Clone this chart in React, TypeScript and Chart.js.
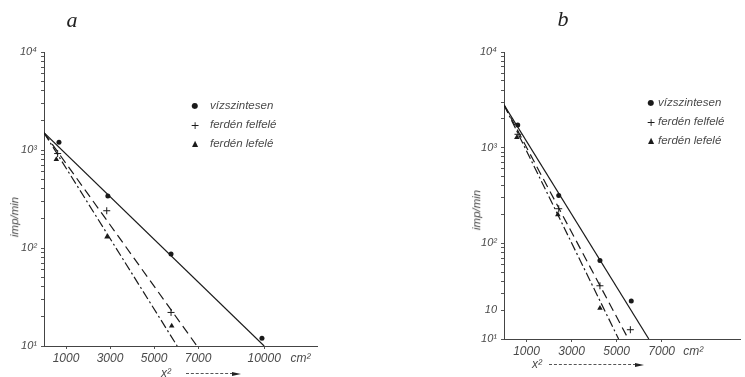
import React, { useEffect, useRef } from 'react';
import { Chart, registerables } from 'chart.js';
Chart.register(...registerables);

const INK = '#1a1a1a';
const TEXT = '#4a4a4a';

// ---------- Panel a ----------
const aDotsX = [680, 2900, 5770, 9900];
const aDotsY = [1200, 340, 87, 12];
const aPlusX = [620, 2850, 5770];
const aPlusY = [920, 240, 22];
const aTriX = [560, 2860, 5800];
const aTriY = [800, 130, 16];
const aSolidX = [0, 10000];
const aSolidY = [1500, 10];
const aDashX = [0, 6950];
const aDashY = [1500, 10];
const aDashDotX = [0, 6050];
const aDashDotY = [1500, 10];
const aXTickValues = [1000, 3000, 5000, 7000, 10000, 11650];
const aXTickLabels = ['1000', '3000', '5000', '7000', '10000', 'cm²'];
const aYTickValues = [10, 100, 1000, 10000];
const aYTickLabels = ['10¹', '10²', '10³', '10⁴'];

// ---------- Panel b ----------
const bDotsX = [610, 2430, 4260, 5650];
const bDotsY = [1730, 316, 66, 25];
const bPlusX = [620, 2430, 4260, 5610];
const bPlusY = [1380, 230, 36, 12.5];
const bTriX = [570, 2390, 4260];
const bTriY = [1280, 200, 21];
const bSolidX = [0, 6430];
const bSolidY = [2800, 10];
const bDashX = [0, 5520];
const bDashY = [2800, 10];
const bDashDotX = [0, 5090];
const bDashDotY = [2800, 10];
const bXTickValues = [1000, 3000, 5000, 7000, 8400];
const bXTickLabels = ['1000', '3000', '5000', '7000', 'cm²'];
const bYTickValues = [10, 20, 100, 1000, 10000];
const bYTickLabels = ['10¹', '10', '10²', '10³', '10⁴'];

const legendLabels = ['vízszintesen', 'ferdén felfelé', 'ferdén lefelé'];
const minorMultipliers = [2, 3, 4, 5, 6, 7, 8, 9];
const decades = [10, 100, 1000];

const pts = (xs: number[], ys: number[]) => xs.map((x, i) => ({ x, y: ys[i] }));

const xTickFont = { family: '"Liberation Sans", Arial, sans-serif', size: 12, style: 'italic' as const };
const yTickFont = { family: '"Liberation Sans", Arial, sans-serif', size: 11, style: 'italic' as const };

function makeConfig(p: any): any {
  const yAll: number[] = [];
  decades.forEach((d) => {
    yAll.push(d);
    minorMultipliers.forEach((m) => yAll.push(d * m));
  });
  yAll.push(10000);
  p.yTickValues.forEach((v: number) => {
    if (!yAll.includes(v)) yAll.push(v);
  });
  yAll.sort((a, b) => a - b);

  return {
    type: 'scatter',
    data: {
      datasets: [
        { data: pts(p.solidX, p.solidY), showLine: true, borderColor: INK, borderWidth: 1.2, pointRadius: 0 },
        { data: pts(p.dashX, p.dashY), showLine: true, borderColor: INK, borderWidth: 1.2, pointRadius: 0, borderDash: [9, 5] },
        { data: pts(p.ddX, p.ddY), showLine: true, borderColor: INK, borderWidth: 1.2, pointRadius: 0, borderDash: [9, 3, 2, 3] },
        { data: pts(p.dotsX, p.dotsY), pointStyle: 'circle', pointRadius: 2.5, backgroundColor: INK, borderColor: INK, borderWidth: 0 },
        { data: pts(p.plusX, p.plusY), pointStyle: 'cross', pointRadius: 3.5, borderColor: INK, borderWidth: 1 },
        { data: pts(p.triX, p.triY), pointStyle: 'triangle', pointRadius: 3.2, backgroundColor: INK, borderColor: INK, borderWidth: 0 },
      ],
    },
    options: {
      animation: false,
      responsive: false,
      maintainAspectRatio: false,
      layout: { padding: p.padding },
      plugins: { legend: { display: false }, tooltip: { enabled: false }, title: { display: false } },
      scales: {
        x: {
          type: 'linear',
          min: 0,
          max: p.xMax,
          afterFit: (s: any) => { s.height = p.xHeight; },
          afterBuildTicks: (s: any) => { s.ticks = p.xTickValues.map((v: number) => ({ value: v })); },
          ticks: {
            autoSkip: false,
            maxRotation: 0,
            padding: 2,
            font: xTickFont,
            color: TEXT,
            callback: (v: any) => {
              const i = p.xTickValues.indexOf(Number(v));
              return i >= 0 ? p.xTickLabels[i] : '';
            },
          },
          grid: {
            drawOnChartArea: false,
            tickLength: 3,
            color: (ctx: any) => (ctx.tick && p.xTickLabels[p.xTickValues.indexOf(ctx.tick.value)] === 'cm²' ? 'rgba(0,0,0,0)' : '#555'),
          },
          border: { display: true, color: '#444', width: 1, dash: [7, 2, 1, 2] },
        },
        y: {
          type: 'logarithmic',
          min: 10,
          max: 10000,
          afterFit: (s: any) => { s.width = p.yWidth; },
          afterBuildTicks: (s: any) => { s.ticks = yAll.map((v) => ({ value: v })); },
          ticks: {
            autoSkip: false,
            padding: 4,
            font: yTickFont,
            color: TEXT,
            callback: (v: any) => {
              const i = p.yTickValues.indexOf(Number(v));
              return i >= 0 ? p.yTickLabels[i] : '';
            },
          },
          grid: { drawOnChartArea: false, tickLength: 3, color: '#555' },
          border: { display: true, color: '#444', width: 1, dash: [5, 2, 1, 2] },
        },
      },
    },
  };
}

const panelA = {
  dotsX: aDotsX, dotsY: aDotsY, plusX: aPlusX, plusY: aPlusY, triX: aTriX, triY: aTriY,
  solidX: aSolidX, solidY: aSolidY, dashX: aDashX, dashY: aDashY, ddX: aDashDotX, ddY: aDashDotY,
  xTickValues: aXTickValues, xTickLabels: aXTickLabels, yTickValues: aYTickValues, yTickLabels: aYTickLabels,
  xMax: 12400, xHeight: 31, yWidth: 44, padding: { top: 52, right: 63, bottom: 0, left: 0 },
};

const panelB = {
  dotsX: bDotsX, dotsY: bDotsY, plusX: bPlusX, plusY: bPlusY, triX: bTriX, triY: bTriY,
  solidX: bSolidX, solidY: bSolidY, dashX: bDashX, dashY: bDashY, ddX: bDashDotX, ddY: bDashDotY,
  xTickValues: bXTickValues, xTickLabels: bXTickLabels, yTickValues: bYTickValues, yTickLabels: bYTickLabels,
  xMax: 10478, xHeight: 38, yWidth: 124, padding: { top: 52, right: 0, bottom: 0, left: 0 },
};

const abs = (left: number, top: number, extra: any = {}): any => ({
  position: 'absolute', left, top, transform: 'translate(-50%,-50%)', whiteSpace: 'nowrap', lineHeight: 1, ...extra,
});

const italicSans = { fontFamily: '"Liberation Sans", Arial, sans-serif', fontStyle: 'italic', color: TEXT };

function Legend({ symX, textX, rows }: { symX: number; textX: number; rows: number[] }) {
  const syms = ['●', '+', '▲'];
  const symSizes = [8, 11, 8];
  return (
    <>
      {rows.map((y, i) => (
        <React.Fragment key={i}>
          <div style={abs(symX, y, { fontSize: symSizes[i], color: INK, fontFamily: '"DejaVu Sans", sans-serif' })}>{syms[i]}</div>
          <div style={{ position: 'absolute', left: textX, top: y, transform: 'translateY(-50%)', whiteSpace: 'nowrap', lineHeight: 1, fontSize: 11.5, ...italicSans }}>
            {legendLabels[i]}
          </div>
        </React.Fragment>
      ))}
    </>
  );
}

function XCaption({ x, y, lineStart, lineEnd }: { x: number; y: number; lineStart: number; lineEnd: number }) {
  return (
    <>
      <div style={abs(x, y, { fontSize: 12, ...italicSans })}>x²</div>
      <div style={{ position: 'absolute', left: lineStart, top: y, width: lineEnd - lineStart - 8, borderTop: '1px dashed #555' }} />
      <div style={{ position: 'absolute', left: lineEnd - 9, top: y - 1.5, width: 0, height: 0, borderTop: '2px solid transparent', borderBottom: '2px solid transparent', borderLeft: '9px solid #222' }} />
    </>
  );
}

export default function App() {
  const refA = useRef<HTMLCanvasElement>(null);
  const refB = useRef<HTMLCanvasElement>(null);

  useEffect(() => {
    const ca = new Chart(refA.current as HTMLCanvasElement, makeConfig(panelA));
    const cb = new Chart(refB.current as HTMLCanvasElement, makeConfig(panelB));
    return () => {
      ca.destroy();
      cb.destroy();
    };
  }, []);

  return (
    <div style={{ position: 'absolute', left: 0, top: 0, width: 745, height: 377, background: '#fff', overflow: 'hidden' }}>
      <canvas ref={refA} width={380} height={377} style={{ position: 'absolute', left: 0, top: 0, width: 380, height: 377 }} />
      <canvas ref={refB} width={365} height={377} style={{ position: 'absolute', left: 380, top: 0, width: 365, height: 377 }} />

      <div style={abs(72, 20, { fontFamily: '"Liberation Serif", serif', fontStyle: 'italic', fontSize: 22, color: '#222' })}>a</div>
      <div style={abs(563, 19, { fontFamily: '"Liberation Serif", serif', fontStyle: 'italic', fontSize: 22, color: '#222' })}>b</div>

      <div style={{ ...abs(15, 217, { fontSize: 11.5, ...italicSans }), transform: 'translate(-50%,-50%) rotate(-90deg)' }}>imp/min</div>
      <div style={{ ...abs(477, 210, { fontSize: 11.5, ...italicSans }), transform: 'translate(-50%,-50%) rotate(-90deg)' }}>imp/min</div>

      <Legend symX={195} textX={210} rows={[106, 125, 144]} />
      <Legend symX={651} textX={658} rows={[103, 122, 141]} />

      <XCaption x={166} y={373} lineStart={186} lineEnd={241} />
      <XCaption x={537} y={364} lineStart={549} lineEnd={644} />
    </div>
  );
}
